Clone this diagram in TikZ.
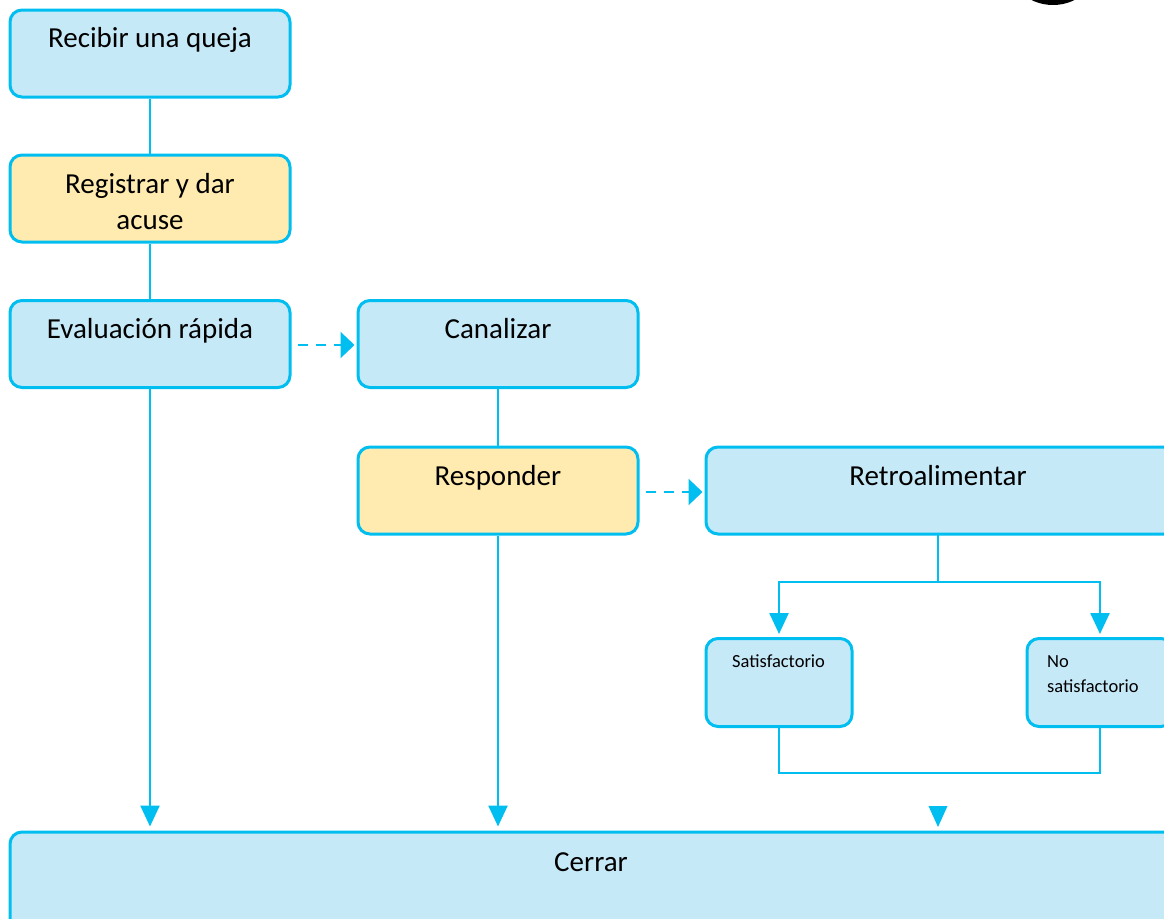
\documentclass[tikz,border=0pt]{standalone}
\usepackage{fontspec}
\setmainfont{Carlito}
\usetikzlibrary{arrows.meta}
\definecolor{bl}{RGB}{0,190,240}
\definecolor{fb}{RGB}{198,233,248}
\definecolor{fy}{RGB}{255,234,175}
\tikzset{
 box/.style={draw=bl, line width=3pt, rounded corners=12pt, fill=fb, inner sep=0pt},
 ybox/.style={box, fill=fy},
 big/.style={font=\fontsize{29}{36}\selectfont, inner sep=0pt, anchor=base, align=center},
 small/.style={font=\fontsize{18.5}{25}\selectfont, inner sep=0pt, anchor=base west, align=left},
 conn/.style={draw=bl, line width=2.5pt},
 arr/.style={conn, -{Triangle[length=21pt,width=19pt]}},
 darr/.style={conn, dash pattern=on 10pt off 8pt, -{Triangle[length=14pt,width=26pt]}},
 head/.style={fill=bl},
}
\begin{document}
\begin{tikzpicture}[x=1pt,y=-1pt]
\clip (0,0) rectangle (1164,918);
\fill[white] (0,0) rectangle (1164,918);
% partial black circle at top right
\fill[black] (1053,-44) circle (49);
% boxes
\node[box, minimum width=280pt, minimum height=87pt] (recibir) at (150,53.5) {};
\node[ybox, minimum width=280pt, minimum height=87pt] (registrar) at (150,198.5) {};
\node[box, minimum width=280pt, minimum height=87pt] (evaluacion) at (150,344) {};
\node[box, minimum width=280pt, minimum height=87pt] (canalizar) at (498,344) {};
\node[ybox, minimum width=280pt, minimum height=87pt] (responder) at (498,490.5) {};
\node[box, minimum width=470pt, minimum height=87pt] (retro) at (941,490.5) {};
\node[box, minimum width=146pt, minimum height=88pt] (sat) at (779,682.5) {};
\node[box, minimum width=146pt, minimum height=88pt] (nosat) at (1100,682.5) {};
\node[box, minimum width=1180pt, minimum height=100pt] (cerrar) at (600,882) {};
% texts
\node[big] (recibirT) at (150,47) {Recibir una queja};
\node[big] (registrarT) at (150,229) {Registrar y dar\\acuse};
\node[big] (evaluacionT) at (150,338) {Evaluación rápida};
\node[big] (canalizarT) at (498,338) {Canalizar};
\node[big] (responderT) at (498,485) {Responder};
\node[big] (retroT) at (938,485) {Retroalimentar};
\node[big] (cerrarT) at (591,871) {Cerrar};
\node[small] (satT) at (732,667) {Satisfactorio};
\node[small] (nosatT) at (1047,692) {No\\satisfactorio};
% connectors
\draw[conn] (recibir.south) -- (registrar.north);
\draw[conn] (registrar.south) -- (evaluacion.north);
\draw[conn] (canalizar.south) -- (responder.north);
\draw[arr, shorten >=4pt] (evaluacion.south) -- (evaluacion.south |- cerrar.north);
\draw[arr, shorten >=4pt] (responder.south) -- (responder.south |- cerrar.north);
\draw[darr, shorten <=6pt, shorten >=2pt] (evaluacion.east |- 0,345) -- (canalizar.west |- 0,345);
\draw[darr, shorten <=6pt, shorten >=2pt] (responder.east |- 0,492) -- (retro.west |- 0,492);
\coordinate (split) at (938,582);
\draw[conn] (938,534) -- (split);
\draw[arr, shorten >=3pt] (split) -| (sat.north);
\draw[arr, shorten >=3pt] (split) -| (nosat.north);
\draw[conn] (sat.south) |- (779,773) -| (nosat.south);
\fill[head] (928.5,806) -- (947.5,806) -- (938,827) -- cycle;
\end{tikzpicture}
\end{document}
